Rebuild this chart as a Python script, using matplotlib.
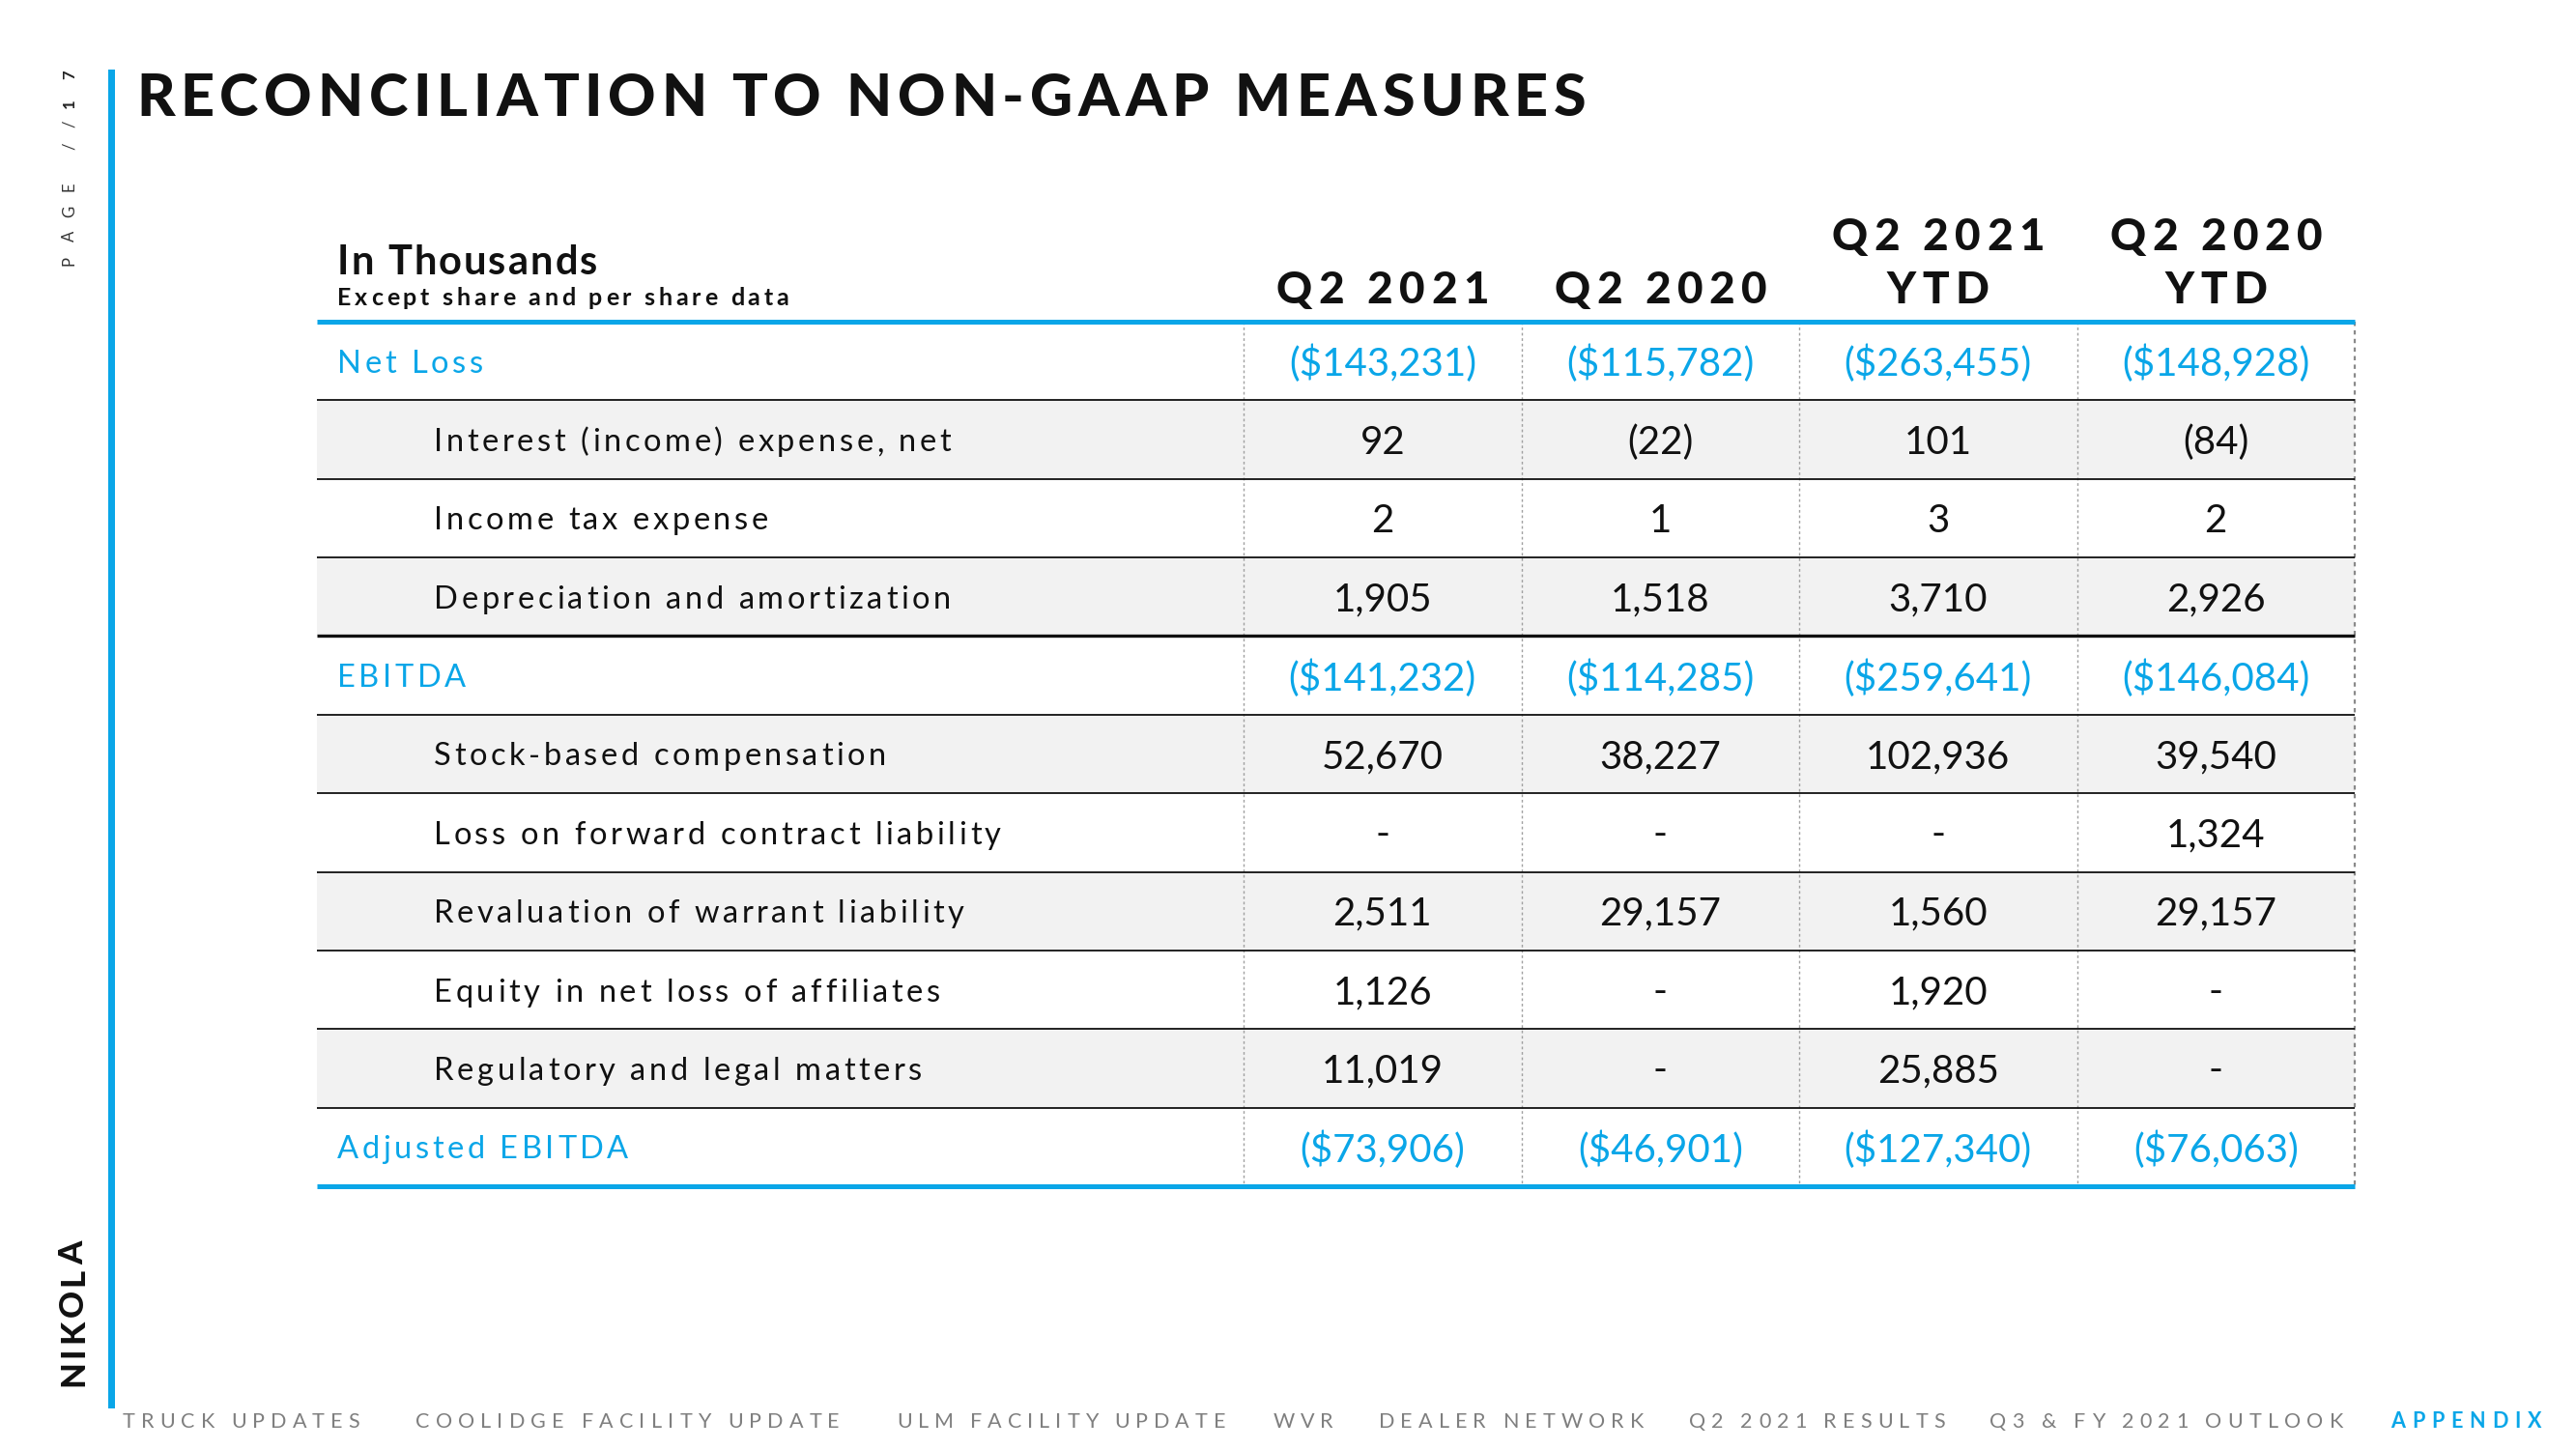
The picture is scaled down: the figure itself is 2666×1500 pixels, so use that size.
import matplotlib
matplotlib.use("Agg")
import matplotlib.pyplot as plt
from matplotlib.font_manager import FontProperties
from matplotlib.patches import Rectangle

# ---------------- data ----------------
row_labels = ["Net Loss", "Interest (income) expense, net", "Income tax expense",
              "Depreciation and amortization", "EBITDA", "Stock-based compensation",
              "Loss on forward contract liability", "Revaluation of warrant liability",
              "Equity in net loss of affiliates", "Regulatory and legal matters",
              "Adjusted EBITDA"]
total_rows = [0, 4, 10]          # blue subtotal rows
col_headers = [["Q2 2021"], ["Q2 2020"], ["Q2 2021", "YTD"], ["Q2 2020", "YTD"]]
q2_2021 = [-143231, 92, 2, 1905, -141232, 52670, None, 2511, 1126, 11019, -73906]
q2_2020 = [-115782, -22, 1, 1518, -114285, 38227, None, 29157, None, None, -46901]
q2_2021_ytd = [-263455, 101, 3, 3710, -259641, 102936, None, 1560, 1920, 25885, -127340]
q2_2020_ytd = [-148928, -84, 2, 2926, -146084, 39540, 1324, 29157, None, None, -76063]
columns = [q2_2021, q2_2020, q2_2021_ytd, q2_2020_ytd]
title = "RECONCILIATION TO NON-GAAP MEASURES"
unit_title = "In Thousands"
unit_sub = "Except share and per share data"
nav_items = ["TRUCK UPDATES", "COOLIDGE FACILITY UPDATE", "ULM FACILITY UPDATE", "WVR",
             "DEALER NETWORK", "Q2 2021 RESULTS", "Q3 & FY 2021 OUTLOOK", "APPENDIX"]
active_nav = "APPENDIX"

# ---------------- style ----------------
BLUE = "#0AA6E8"
BLACK = "#111111"
GRAY = "#7F7F7F"
SHADE = "#F2F2F2"
FAM = ["Lato", "DejaVu Sans"]

W, H = 2666, 1500
fig = plt.figure(figsize=(W / 100, H / 100), dpi=100)
ax = fig.add_axes([0, 0, 1, 1])
ax.set_xlim(0, W)
ax.set_ylim(H, 0)
ax.axis("off")
renderer = fig.canvas.get_renderer()


def fmt(v, total):
    if v is None:
        return "-"
    s = f"{abs(v):,}"
    if total:
        s = "$" + s
    return f"({s})" if v < 0 else s


def advance(c, prop):
    w1 = renderer.get_text_width_height_descent("x" + c + "x", prop, ismath=False)[0]
    w0 = renderer.get_text_width_height_descent("xx", prop, ismath=False)[0]
    return w1 - w0


def tracked(x, y, s, size, weight="normal", color=BLACK, track=0.1, width=None,
            ha="left", vertical=False):
    prop = FontProperties(family=FAM, weight=weight, size=size)
    advs = [advance(c, prop) for c in s]
    if width is not None and len(s) > 1:
        tr = (width - sum(advs)) / (len(s) - 1)
    else:
        tr = track * size * 100 / 72
    total = sum(advs) + tr * (len(s) - 1)
    if ha == "center":
        start = -total / 2
    elif ha == "right":
        start = -total
    else:
        start = 0
    pos = start
    for c, a in zip(s, advs):
        if c != " ":
            if vertical:
                ax.text(x, y - pos, c, fontproperties=prop, color=color, rotation=90,
                        rotation_mode="anchor", ha="left", va="center", parse_math=False)
            else:
                ax.text(x + pos, y, c, fontproperties=prop, color=color,
                        ha="left", va="center", parse_math=False)
        pos += a + tr
    return total


# ---------------- page chrome ----------------
ax.add_patch(Rectangle((112, 72), 7, 1386, color=BLUE, lw=0))
tracked(72, 275, "PAGE //", 12, weight="normal", color="#333333", width=150, vertical=True)
tracked(72, 112, "17", 12, weight="bold", color="#222222", width=40, vertical=True)
tracked(76, 1435, "NIKOLA", 25, weight="black", color=BLACK, width=150, vertical=True)

tracked(141, 102, title, 44, weight="black", color=BLACK, width=1500)

# ---------------- table geometry ----------------
left, right = 328, 2437
top, bottom = 333, 1228
nrows = len(row_labels)
rh = (bottom - top) / nrows
col_left = 1287
cw = (right - col_left) / len(columns)
dy = 3  # optical text offset

for i in range(nrows):
    if i % 2 == 1:
        ax.add_patch(Rectangle((left, top + i * rh), right - left, rh, color=SHADE, lw=0))

for j in range(len(columns) + 1):
    x = col_left + j * cw
    ax.plot([x, x], [top, bottom], color="#8a8a8a" if j == len(columns) else "#a0a0a0",
            lw=1.6 if j == len(columns) else 1.0, ls=(0, (2, 2)))

for i in range(1, nrows):
    y = top + i * rh
    lw = 2.4 if i == 4 else 1.3
    ax.plot([left, right], [y, y], color=BLACK, lw=lw, solid_capstyle="butt")

ax.plot([left, right], [top, top], color=BLUE, lw=3.6, solid_capstyle="butt")
ax.plot([left, right], [bottom, bottom], color=BLUE, lw=3.6, solid_capstyle="butt")

# header
tracked(349, 272, unit_title, 30, weight="bold", color=BLACK, track=0.05)
tracked(349, 309, unit_sub, 18, weight="bold", color=BLACK, track=0.15)
for j, hdr in enumerate(col_headers):
    cx = col_left + (j + 0.5) * cw
    lines = hdr
    ys = [301] if len(lines) == 1 else [246, 301]
    for ln, yy in zip(lines, ys):
        tracked(cx, yy, ln, 33, weight="black", color=BLACK, track=0.14, ha="center")

# rows
for i, lab in enumerate(row_labels):
    yc = top + (i + 0.5) * rh + dy
    is_total = i in total_rows
    x = 349 if is_total else 449
    tracked(x, yc, lab, 23.5, weight="normal", color=BLUE if is_total else BLACK, track=0.11)
    for j, col in enumerate(columns):
        cx = col_left + (j + 0.5) * cw
        ax.text(cx, yc, fmt(col[i], is_total), family=FAM, weight="normal", size=29,
                color=BLUE if is_total else BLACK, ha="center", va="center", parse_math=False)

# footer nav
nav_x = [127, 430, 928, 1318, 1427, 1748, 2059, 2474]
nav_w = [245, 439, 340, 61, 274, 265, 366, 156]
for x, w, item in zip(nav_x, nav_w, nav_items):
    active = item == active_nav
    tracked(x, 1472, item, 15.5, weight="bold" if active else "normal",
            color=BLUE if active else GRAY, width=w)

fig.savefig("out.png", dpi=100, facecolor="white")
